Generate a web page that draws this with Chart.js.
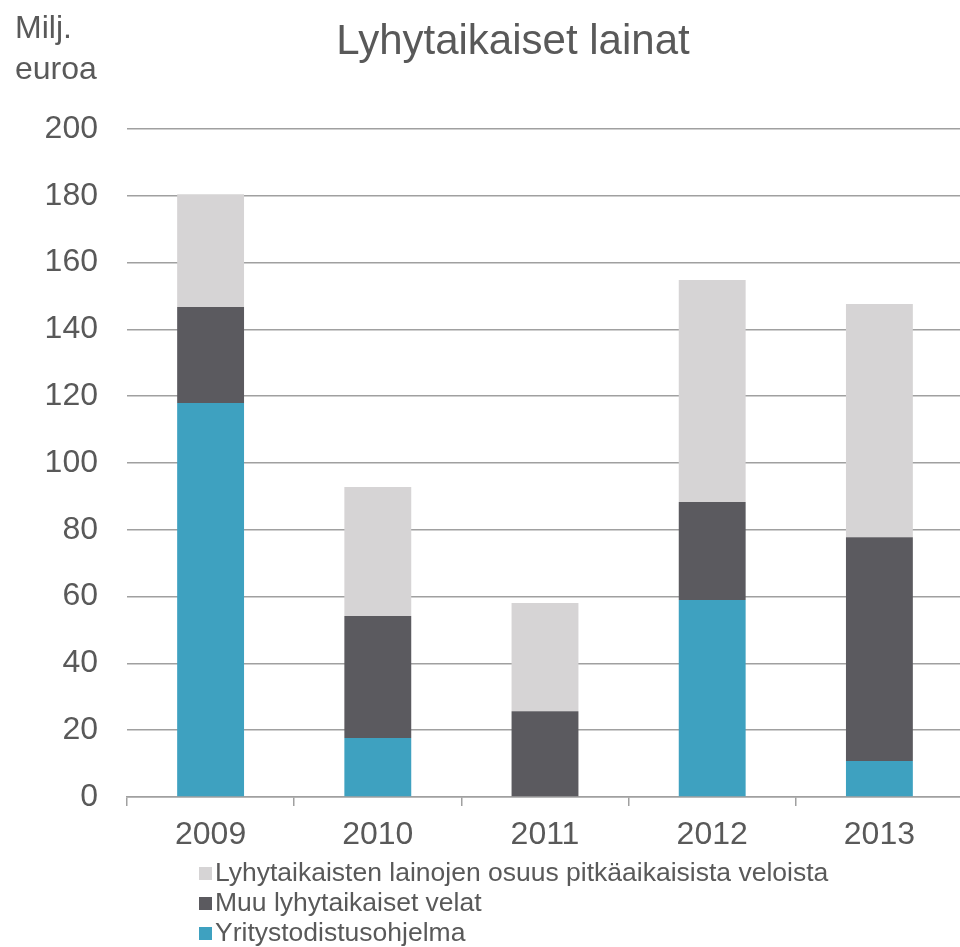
<!DOCTYPE html>
<html>
<head>
<meta charset="utf-8">
<script src="https://cdn.jsdelivr.net/npm/chart.js@4"></script>
<style>
  body { margin: 0; background: #fff; overflow: hidden; }
  #wrap { position: relative; width: 963px; height: 947px; }
  #legend {
    position: absolute; left: 199px; top: 857px;
    font-family: "Liberation Sans", Arial, sans-serif; font-size: 26.5px; color: #595959;
  }
  #legend div { height: 30px; line-height: 30px; white-space: nowrap; }
  #legend span.box { display: inline-block; width: 13px; height: 13px; margin-right: 3px; vertical-align: 1px; }
</style>
</head>
<body>
<div id="wrap">
  <canvas id="loanChart"></canvas>
  <div id="legend"></div>
</div>
<script>
// Short-term loans by year, million euros (stacked)
const years = ['2009', '2010', '2011', '2012', '2013'];
const commercialPaper = [118, 17.7, 0, 59, 10.8];
const otherLiabilities = [28.7, 36.5, 25.7, 29.3, 67];
const currentPortion = [33.8, 38.6, 32.4, 66.5, 69.8];
const yTicks = [0, 20, 40, 60, 80, 100, 120, 140, 160, 180, 200];

const textColor = '#595959';
const gridColor = '#a0a0a0';
const fontFamily = '"Liberation Sans", Arial, sans-serif';

// title and unit label above the plot
const headerPlugin = {
    id: 'header',
    afterDraw(chart) {
        const c = chart.ctx;
        c.save();
        c.fillStyle = textColor;
        c.textBaseline = 'alphabetic';
        c.font = '42px ' + fontFamily;
        c.textAlign = 'center';
        c.fillText('Lyhytaikaiset lainat', 513, 54);
        c.font = '32px ' + fontFamily;
        c.textAlign = 'left';
        c.fillText('Milj.', 15, 38);
        c.fillText('euroa', 15, 79);
        c.restore();
    }
};

const ctx = document.getElementById('loanChart').getContext('2d');
const loanChart = new Chart(ctx, {
    type: 'bar',
    data: {
        labels: years,
        datasets: [
            {
                label: 'Yritystodistusohjelma',
                data: commercialPaper,
                backgroundColor: '#3ea1c0',
            },
            {
                label: 'Muu lyhytaikaiset velat',
                data: otherLiabilities,
                backgroundColor: '#5b5a5f',
            },
            {
                label: 'Lyhytaikaisten lainojen osuus pitkäaikaisista veloista',
                data: currentPortion,
                backgroundColor: '#d6d4d5',
            }
        ]
    },
    options: {
        responsive: true,
        maintainAspectRatio: false,
        animation: false,
        layout: {
            padding: { top: 129, bottom: 90, left: 0, right: 0 }
        },
        datasets: {
            bar: {
                barPercentage: 0.4,
                categoryPercentage: 1,
            }
        },
        scales: {
            x: {
                stacked: true,
                grid: {
                    drawOnChartArea: false,
                    drawTicks: true,
                    tickLength: 9,
                    color: gridColor,
                    lineWidth: 1.5,
                },
                border: { display: true, color: gridColor, width: 1.5 },
                ticks: {
                    color: textColor,
                    padding: 10,
                    font: { family: fontFamily, size: 32 },
                },
                afterFit(scale) { scale.height = 60; }
            },
            y: {
                stacked: true,
                min: 0,
                max: 200,
                afterBuildTicks(scale) {
                    scale.ticks = yTicks.map(v => ({ value: v }));
                },
                grid: {
                    drawTicks: false,
                    color: gridColor,
                    lineWidth: 1.5,
                },
                border: { display: false },
                ticks: {
                    color: textColor,
                    padding: 29,
                    font: { family: fontFamily, size: 32 },
                },
                afterFit(scale) { scale.width = 127; }
            }
        },
        plugins: {
            legend: { display: false },
            tooltip: { enabled: false }
        }
    },
    plugins: [headerPlugin]
});

// legend below the chart, top series first
const legendEl = document.getElementById('legend');
loanChart.data.datasets.slice().reverse().forEach(ds => {
    const row = document.createElement('div');
    const box = document.createElement('span');
    box.className = 'box';
    box.style.background = ds.backgroundColor;
    row.appendChild(box);
    row.appendChild(document.createTextNode(ds.label));
    legendEl.appendChild(row);
});
</script>
</body>
</html>
